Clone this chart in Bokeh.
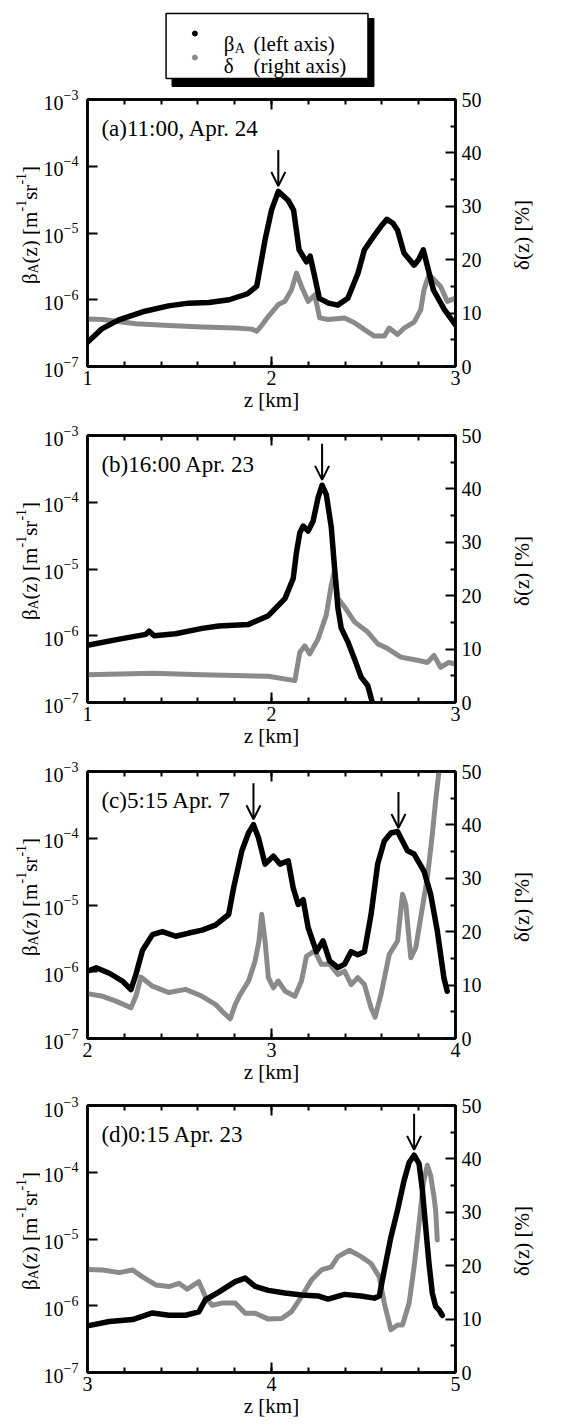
import numpy as np
from bokeh.plotting import figure
from bokeh.models import Range1d, LinearAxis, FixedTicker, Label, Arrow, OpenHead, LinearScale
from bokeh.layouts import gridplot
from bokeh.embed import file_html
from bokeh.resources import INLINE

FONT = "Liberation Serif"
GREY = "#8a8a8a"

# ---------------- data ----------------
# panel (a) 11:00, Apr. 24
za_beta = [1.00, 1.08, 1.17, 1.30, 1.44, 1.55, 1.66, 1.77, 1.87, 1.92, 1.965, 2.00, 2.037,
           2.09, 2.12, 2.15, 2.19, 2.21, 2.235, 2.26, 2.31, 2.36, 2.415, 2.47, 2.505, 2.56,
           2.595, 2.627, 2.66, 2.685, 2.72, 2.775, 2.80, 2.825, 2.847, 2.88, 2.94, 3.00]
a_beta = [2.3e-7, 3.7e-7, 5.0e-7, 6.6e-7, 8.1e-7, 8.9e-7, 9.1e-7, 1.0e-6, 1.23e-6, 1.6e-6,
          7.9e-6, 2.2e-5, 4.2e-5, 3.1e-5, 2.2e-5, 5.6e-6, 3.7e-6, 4.5e-6, 2.2e-6, 1.05e-6,
          8.9e-7, 8.3e-7, 1.05e-6, 2.5e-6, 5.6e-6, 9.3e-6, 1.26e-5, 1.6e-5, 1.4e-5, 1.1e-5,
          5.0e-6, 3.3e-6, 4.0e-6, 5.6e-6, 3.2e-6, 1.4e-6, 7.1e-7, 4.2e-7]
za_delta = [1.00, 1.083, 1.263, 1.443, 1.623, 1.803, 1.893, 1.92, 1.947, 1.983, 2.037, 2.073,
            2.109, 2.136, 2.163, 2.199, 2.235, 2.262, 2.307, 2.397, 2.451, 2.505, 2.559,
            2.613, 2.64, 2.685, 2.721, 2.775, 2.811, 2.829, 2.856, 2.883, 2.919, 2.955, 3.00]
a_delta = [8.9, 8.8, 8.0, 7.7, 7.4, 7.2, 7.0, 6.6, 7.7, 9.4, 11.6, 12.2, 14.4, 17.5, 15.0,
           12.2, 13.4, 9.1, 8.8, 9.1, 8.2, 6.9, 5.7, 5.7, 7.2, 6.0, 7.2, 8.3, 10.6, 14.4,
           17.2, 16.3, 15.0, 12.2, 12.8]

# panel (b) 16:00 Apr. 23
zb_beta = [1.00, 1.173, 1.317, 1.335, 1.362, 1.479, 1.623, 1.713, 1.875, 1.983, 2.073, 2.118,
           2.136, 2.154, 2.172, 2.199, 2.226, 2.253, 2.275, 2.298, 2.325, 2.343, 2.361, 2.379,
           2.415, 2.451, 2.487, 2.523, 2.545]
b_beta = [7.2e-7, 8.9e-7, 1.05e-6, 1.17e-6, 1.0e-6, 1.07e-6, 1.29e-6, 1.4e-6, 1.48e-6, 2.0e-6,
          3.6e-6, 7.2e-6, 1.8e-5, 3.5e-5, 4.4e-5, 3.7e-5, 5.2e-5, 1.17e-4, 1.8e-4, 1.3e-4,
          4.2e-5, 1.02e-5, 2.6e-6, 1.3e-6, 8.1e-7, 4.5e-7, 2.4e-7, 1.8e-7, 1.07e-7]
zb_delta = [1.00, 1.353, 1.623, 1.983, 2.127, 2.154, 2.181, 2.208, 2.253, 2.298, 2.325, 2.343,
            2.361, 2.397, 2.451, 2.523, 2.577, 2.631, 2.703, 2.793, 2.847, 2.883, 2.919,
            2.964, 3.00]
b_delta = [5.2, 5.5, 5.2, 4.9, 4.1, 9.4, 10.6, 9.1, 11.9, 16.4, 22.0, 24.8, 19.5, 17.9, 15.1,
           13.2, 11.0, 10.1, 8.5, 7.9, 7.5, 8.8, 6.6, 7.5, 7.2]

# panel (c) 5:15 Apr. 7
zc_beta = [2.000, 2.047, 2.119, 2.191, 2.236, 2.263, 2.299, 2.353, 2.407, 2.479, 2.551, 2.623,
           2.695, 2.767, 2.794, 2.839, 2.875, 2.902, 2.929, 2.965, 3.010, 3.046, 3.091, 3.118,
           3.145, 3.172, 3.199, 3.244, 3.280, 3.316, 3.361, 3.397, 3.433, 3.469, 3.505, 3.541,
           3.577, 3.613, 3.649, 3.685, 3.739, 3.775, 3.829, 3.865, 3.901, 3.937, 3.955]
c_beta = [1.02e-6, 1.15e-6, 9.5e-7, 7.2e-7, 5.4e-7, 9.1e-7, 2.1e-6, 3.6e-6, 4.0e-6, 3.4e-6,
          3.8e-6, 4.2e-6, 5.0e-6, 7.2e-6, 1.8e-5, 6.5e-5, 1.2e-4, 1.6e-4, 1.02e-4, 4.1e-5,
          5.4e-5, 4.1e-5, 4.6e-5, 1.8e-5, 1.02e-5, 1.2e-5, 4.6e-6, 2.0e-6, 2.9e-6, 1.45e-6,
          1.15e-6, 1.3e-6, 2.0e-6, 1.8e-6, 2.0e-6, 7.2e-6, 4.1e-5, 9.1e-5, 1.2e-4, 1.26e-4,
          6.5e-5, 5.8e-5, 3.2e-5, 1.45e-5, 4.1e-6, 8.1e-7, 5.1e-7]
zc_delta = [2.000, 2.083, 2.155, 2.236, 2.263, 2.290, 2.353, 2.443, 2.533, 2.623, 2.695, 2.749,
            2.776, 2.803, 2.830, 2.875, 2.911, 2.932, 2.947, 2.965, 2.983, 3.010, 3.037,
            3.073, 3.127, 3.163, 3.190, 3.235, 3.271, 3.316, 3.361, 3.397, 3.433, 3.469,
            3.505, 3.541, 3.563, 3.595, 3.640, 3.685, 3.712, 3.730, 3.757, 3.784, 3.820,
            3.847, 3.874, 3.892, 3.910]
c_delta = [8.4, 7.9, 7.0, 5.75, 7.9, 11.5, 9.8, 8.6, 9.2, 7.9, 6.4, 4.5, 3.7, 6.4, 8.25, 10.75,
           14.5, 18.25, 23.25, 18.25, 11.4, 9.5, 10.75, 8.9, 7.9, 10.75, 15.4, 16.4, 13.9,
           13.9, 12.0, 12.6, 10.1, 11.4, 10.1, 5.75, 4.0, 8.25, 15.75, 18.25, 27.0, 25.1,
           15.1, 17.0, 24.5, 30.1, 38.25, 44.5, 50.0]

# panel (d) 0:15 Apr. 23
zd_beta = [3.000, 3.119, 3.245, 3.353, 3.443, 3.533, 3.605, 3.641, 3.713, 3.803, 3.857, 3.911,
           3.983, 4.073, 4.163, 4.253, 4.307, 4.397, 4.487, 4.559, 4.586, 4.613, 4.649, 4.685,
           4.721, 4.748, 4.775, 4.802, 4.820, 4.838, 4.856, 4.874, 4.892, 4.910, 4.928]
d_beta = [5.0e-7, 5.8e-7, 6.2e-7, 7.8e-7, 7.2e-7, 7.2e-7, 8.1e-7, 1.23e-6, 1.6e-6, 2.3e-6,
          2.6e-6, 1.95e-6, 1.7e-6, 1.55e-6, 1.45e-6, 1.4e-6, 1.26e-6, 1.48e-6, 1.4e-6, 1.3e-6,
          1.4e-6, 3.4e-6, 1.07e-5, 2.7e-5, 7.6e-5, 1.4e-4, 1.8e-4, 1.35e-4, 5.4e-5, 1.5e-5,
          4.3e-6, 1.55e-6, 9.8e-7, 8.7e-7, 7.2e-7]
zd_delta = [3.000, 3.083, 3.173, 3.245, 3.299, 3.371, 3.443, 3.497, 3.542, 3.605, 3.641,
            3.677, 3.731, 3.803, 3.857, 3.911, 3.983, 4.055, 4.109, 4.163, 4.217, 4.271,
            4.325, 4.361, 4.424, 4.487, 4.541, 4.586, 4.613, 4.649, 4.685, 4.712, 4.748,
            4.775, 4.802, 4.825, 4.847, 4.865, 4.883, 4.892, 4.901]
d_delta = [19.3, 19.2, 18.7, 19.2, 17.9, 16.4, 16.1, 16.7, 15.6, 17.0, 14.2, 12.6, 13.0, 13.0,
           11.1, 11.1, 10.0, 10.1, 11.4, 14.2, 17.3, 19.2, 19.8, 21.7, 22.9, 21.7, 20.4,
           17.9, 13.0, 8.0, 8.9, 8.9, 13.0, 19.8, 27.9, 35.4, 38.8, 36.9, 32.9, 30.4, 24.8]

panel_titles = ["(a)11:00, Apr. 24", "(b)16:00 Apr. 23", "(c)5:15 Apr. 7", "(d)0:15 Apr. 23"]
x_starts = [1, 1, 2, 3]
arrow_zs = [[2.037], [2.275], [2.902, 3.690], [4.775]]
delta_ticks = [0, 10, 20, 30, 40, 50]
delta_minor = [5, 15, 25, 35, 45]

# ---------------- layout ----------------
LW = 40            # left label strip
RW = 60            # right label strip
PBL, PBR = 45, 50  # panel borders
FW = 370           # frame width
PW = PBL + FW + PBR


def bare(width, height, xr, yr, btop=0, bbot=0, bl=0, br=0):
    f = figure(width=width, height=height, x_range=xr, y_range=yr,
               output_backend="svg", toolbar_location=None,
               min_border_left=bl, min_border_right=br,
               min_border_top=btop, min_border_bottom=bbot,
               x_axis_location=None, y_axis_location=None)
    f.xgrid.visible = False
    f.ygrid.visible = False
    f.outline_line_color = None
    return f


def txt(p, text, x, y, size, angle=0.0, align="left", baseline="alphabetic", **kw):
    p.add_layout(Label(x=x, y=y, text=text, text_font=FONT, text_font_size=f"{size}px",
                       text_color="black", angle=angle, text_align=align,
                       text_baseline=baseline, **kw))


def side_labels(height, btop, bbot):
    FH = height - btop - bbot
    lf = bare(LW, height, Range1d(0, LW), Range1d(0, FH), btop, bbot)
    # beta_A(z) [m^-1 sr^-1], rotated, composed of pieces
    pieces = [("\u03b2", 21, 0, 10.5), ("A", 14, 4, 10.1), ("(z) [m", 21, 0, 52.0),
              ("-1", 14, -9, 11.7), ("sr", 21, 0, 15.2), ("-1", 14, -9, 11.7), ("]", 21, 0, 7.0)]
    total = sum(pc[3] for pc in pieces)
    ypos = FH / 2 + 8 - total / 2
    base_x = 29
    for t, sz, off, w in pieces:
        txt(lf, t, base_x + off, ypos, sz, angle=np.pi / 2)
        ypos += w
    rf = bare(RW, height, Range1d(0, RW), Range1d(0, FH), btop, bbot)
    txt(rf, "\u03b4(z) [%]", 16, FH / 2 - 2, 21, angle=np.pi / 2, align="center",
        baseline="middle")
    return lf, rf


def make_panel(zb, beta, zd, delta, x0, title, arrows, height, btop, bbot):
    FH = height - btop - bbot
    p = figure(width=PW, height=height, x_range=Range1d(x0, x0 + 2),
               y_range=Range1d(1e-7, 1e-3), y_axis_type="log",
               output_backend="svg", toolbar_location=None,
               min_border_left=PBL, min_border_right=PBR,
               min_border_top=btop, min_border_bottom=bbot)
    p.extra_y_ranges = {"d": Range1d(0, 50), "py": Range1d(0, FH)}
    p.extra_y_scales = {"d": LinearScale(), "py": LinearScale()}
    p.extra_x_ranges = {"px": Range1d(0, FW)}
    p.extra_x_scales = {"px": LinearScale()}
    p.xgrid.visible = False
    p.ygrid.visible = False
    p.outline_line_color = "black"
    p.outline_line_width = 2.5
    p.background_fill_color = "white"
    p.border_fill_color = "white"

    ticks = [x0, x0 + 1, x0 + 2]
    xt = FixedTicker(ticks=ticks, minor_ticks=[round(x0 + 0.2 * k, 1) for k in range(11)])
    bx = p.below[0]
    bx.ticker = xt
    bx.axis_label = "z [km]"
    top = LinearAxis(ticker=xt, major_label_text_font_size="1px", major_label_standoff=0,
                     major_label_text_color=None,
                     major_label_overrides={t: "" for t in ticks})
    p.add_layout(top, "above")
    for ax in (bx, top):
        ax.major_tick_in = 10
        ax.major_tick_out = 0
        ax.minor_tick_in = 5
        ax.minor_tick_out = 0

    ly = p.left[0]
    ly.minor_tick_line_color = None
    ly.major_tick_in = 10
    ly.major_tick_out = 0

    ry = LinearAxis(y_range_name="d",
                    ticker=FixedTicker(ticks=delta_ticks, minor_ticks=delta_minor))
    ry.major_tick_in = 10
    ry.major_tick_out = 0
    ry.minor_tick_in = 5
    ry.minor_tick_out = 0
    p.add_layout(ry, "right")

    for ax in (bx, top, ly, ry):
        ax.axis_line_width = 2.5
        ax.axis_line_color = "black"
        ax.major_tick_line_width = 2
        ax.minor_tick_line_width = 2
        ax.major_tick_line_color = "black"
        ax.major_label_text_font = FONT
        ax.axis_label_text_font = FONT
        ax.axis_label_text_font_style = "normal"
        ax.axis_label_text_font_size = "21px"
        ax.axis_label_text_color = "black"
    for ax in (bx, ly, ry):
        ax.major_label_text_font_size = "20px"
        ax.major_label_text_color = "black"
    bx.major_label_standoff = 4
    bx.axis_label_standoff = 0
    ly.major_label_standoff = 5
    ry.major_label_standoff = 6
    ry.minor_tick_line_color = "black"
    bx.minor_tick_line_color = "black"
    top.minor_tick_line_color = "black"

    p.line(zd, delta, y_range_name="d", line_color=GREY, line_width=5,
           line_join="round", line_cap="round")
    p.line(zb, beta, line_color="black", line_width=5.5, line_join="round", line_cap="round")

    lb = np.log10(np.array(beta))
    for za in arrows:
        pk = float(np.interp(za, zb, lb))
        p.add_layout(Arrow(x_start=za, y_start=10 ** (pk + 0.62), x_end=za,
                           y_end=10 ** (pk + 0.08), line_width=2, line_color="black",
                           end=OpenHead(size=14, line_width=2, line_color="black")))

    txt(p, title, 14, FH - 29, 23, baseline="middle", x_range_name="px", y_range_name="py")
    return p


# legend block (data coordinates equal page pixels)
LH = 88
leg = bare(PW, LH, Range1d(LW + PBL, LW + PBL + FW), Range1d(LH, 0), 0, 0, PBL, PBR)
leg.quad(left=[170], right=[373], top=[18], bottom=[86], fill_color="black", line_color="black")
leg.quad(left=[164], right=[367], top=[13], bottom=[78], fill_color="white",
         line_color="black", line_width=1.5)
leg.scatter([193], [33], size=5, color="black")
leg.scatter([193], [57], size=5, color=GREY)
for t, x, y, sz in [("\u03b2", 222, 43, 21), ("A", 233, 48, 14), ("(left axis)", 252, 43, 21),
                    ("\u03b4", 222, 65, 21), ("(right axis)", 252, 65, 21)]:
    txt(leg, t, x, y, sz)

specs = [(za_beta, a_beta, za_delta, a_delta, 336, 11, 58),
         (zb_beta, b_beta, zb_delta, b_delta, 336, 11, 58),
         (zc_beta, c_beta, zc_delta, c_delta, 336, 11, 58),
         (zd_beta, d_beta, zd_delta, d_delta, 328, 9, 52)]
rows = [[None, leg, None]]
for i, (zb, bb, zd, dd, h, bt, bb_) in enumerate(specs):
    p = make_panel(zb, bb, zd, dd, x_starts[i], panel_titles[i], arrow_zs[i], h, bt, bb_)
    lf, rf = side_labels(h, bt, bb_)
    rows.append([lf, p, rf])

grid = gridplot(rows, toolbar_location=None)
open("out.html", "w").write(file_html(grid, INLINE))
